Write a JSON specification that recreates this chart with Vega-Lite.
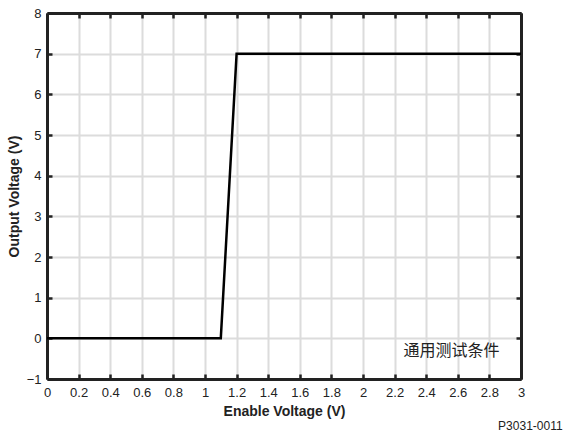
{
  "$schema": "https://vega.github.io/schema/vega-lite/v6.json",
  "width": 474,
  "height": 366,
  "autosize": {"type": "none"},
  "padding": {"left": 47, "top": 13, "right": 42, "bottom": 57},
  "background": "white",
  "config": {
    "view": {"stroke": null},
    "axis": {
      "labelFont": "Liberation Sans",
      "labelFontSize": 13,
      "labelColor": "#222",
      "titleFont": "Liberation Sans",
      "titleFontSize": 14,
      "titleFontWeight": "bold",
      "titleColor": "#222",
      "domainColor": "#222",
      "domainWidth": 3,
      "tickColor": "#222",
      "tickWidth": 2.5,
      "tickSize": -5,
      "gridColor": "#dcdcdc",
      "gridWidth": 2
    }
  },
  "title": {
    "text": "P3031-0011",
    "orient": "bottom",
    "anchor": "end",
    "font": "Liberation Sans",
    "fontSize": 12,
    "fontWeight": "normal",
    "color": "#222",
    "dx": 38,
    "offset": 3
  },
  "data": {"values": [
    {"x": 0, "y": 0},
    {"x": 1.1, "y": 0},
    {"x": 1.2, "y": 7},
    {"x": 3, "y": 7}
  ]},
  "layer": [
    {
      "mark": {"type": "line", "color": "black", "strokeWidth": 2.5, "clip": true},
      "encoding": {
        "x": {"field": "x", "type": "quantitative", "scale": {"domain": [0, 3], "nice": false, "zero": false},
              "axis": {"title": "Enable Voltage (V)", "format": ".1~f", "values": [0,0.2,0.4,0.6,0.8,1,1.2,1.4,1.6,1.8,2,2.2,2.4,2.6,2.8,3], "labelPadding": 12, "titlePadding": 5, "labelFlush": false}},
        "y": {"field": "y", "type": "quantitative", "scale": {"domain": [-1, 8], "nice": false, "zero": false},
              "axis": {"title": "Output Voltage (V)", "format": "d", "values": [-1,0,1,2,3,4,5,6,7,8], "labelPadding": 11, "titlePadding": 5, "labelFlush": false}}
      }
    },
    {
      "mark": {"type": "line", "opacity": 0},
      "encoding": {
        "x": {"field": "x", "type": "quantitative", "scale": {"domain": [0, 3], "nice": false, "zero": false},
              "axis": {"orient": "top", "title": null, "labels": false, "grid": false, "values": [0,0.2,0.4,0.6,0.8,1,1.2,1.4,1.6,1.8,2,2.2,2.4,2.6,2.8,3]}},
        "y": {"field": "y", "type": "quantitative", "scale": {"domain": [-1, 8], "nice": false, "zero": false},
              "axis": {"orient": "right", "title": null, "labels": false, "grid": false, "values": [-1,0,1,2,3,4,5,6,7,8]}}
      }
    },
    {
      "data": {"values": [{"x": 2.56, "y": -0.31, "label": "通用测试条件"}]},
      "mark": {"type": "text", "font": "Noto Sans CJK SC", "fontSize": 16, "color": "#222", "align": "center", "baseline": "middle"},
      "encoding": {
        "x": {"field": "x", "type": "quantitative", "axis": null},
        "y": {"field": "y", "type": "quantitative", "axis": null},
        "text": {"field": "label"}
      }
    }
  ],
  "resolve": {"axis": {"x": "independent", "y": "independent"}}
}
